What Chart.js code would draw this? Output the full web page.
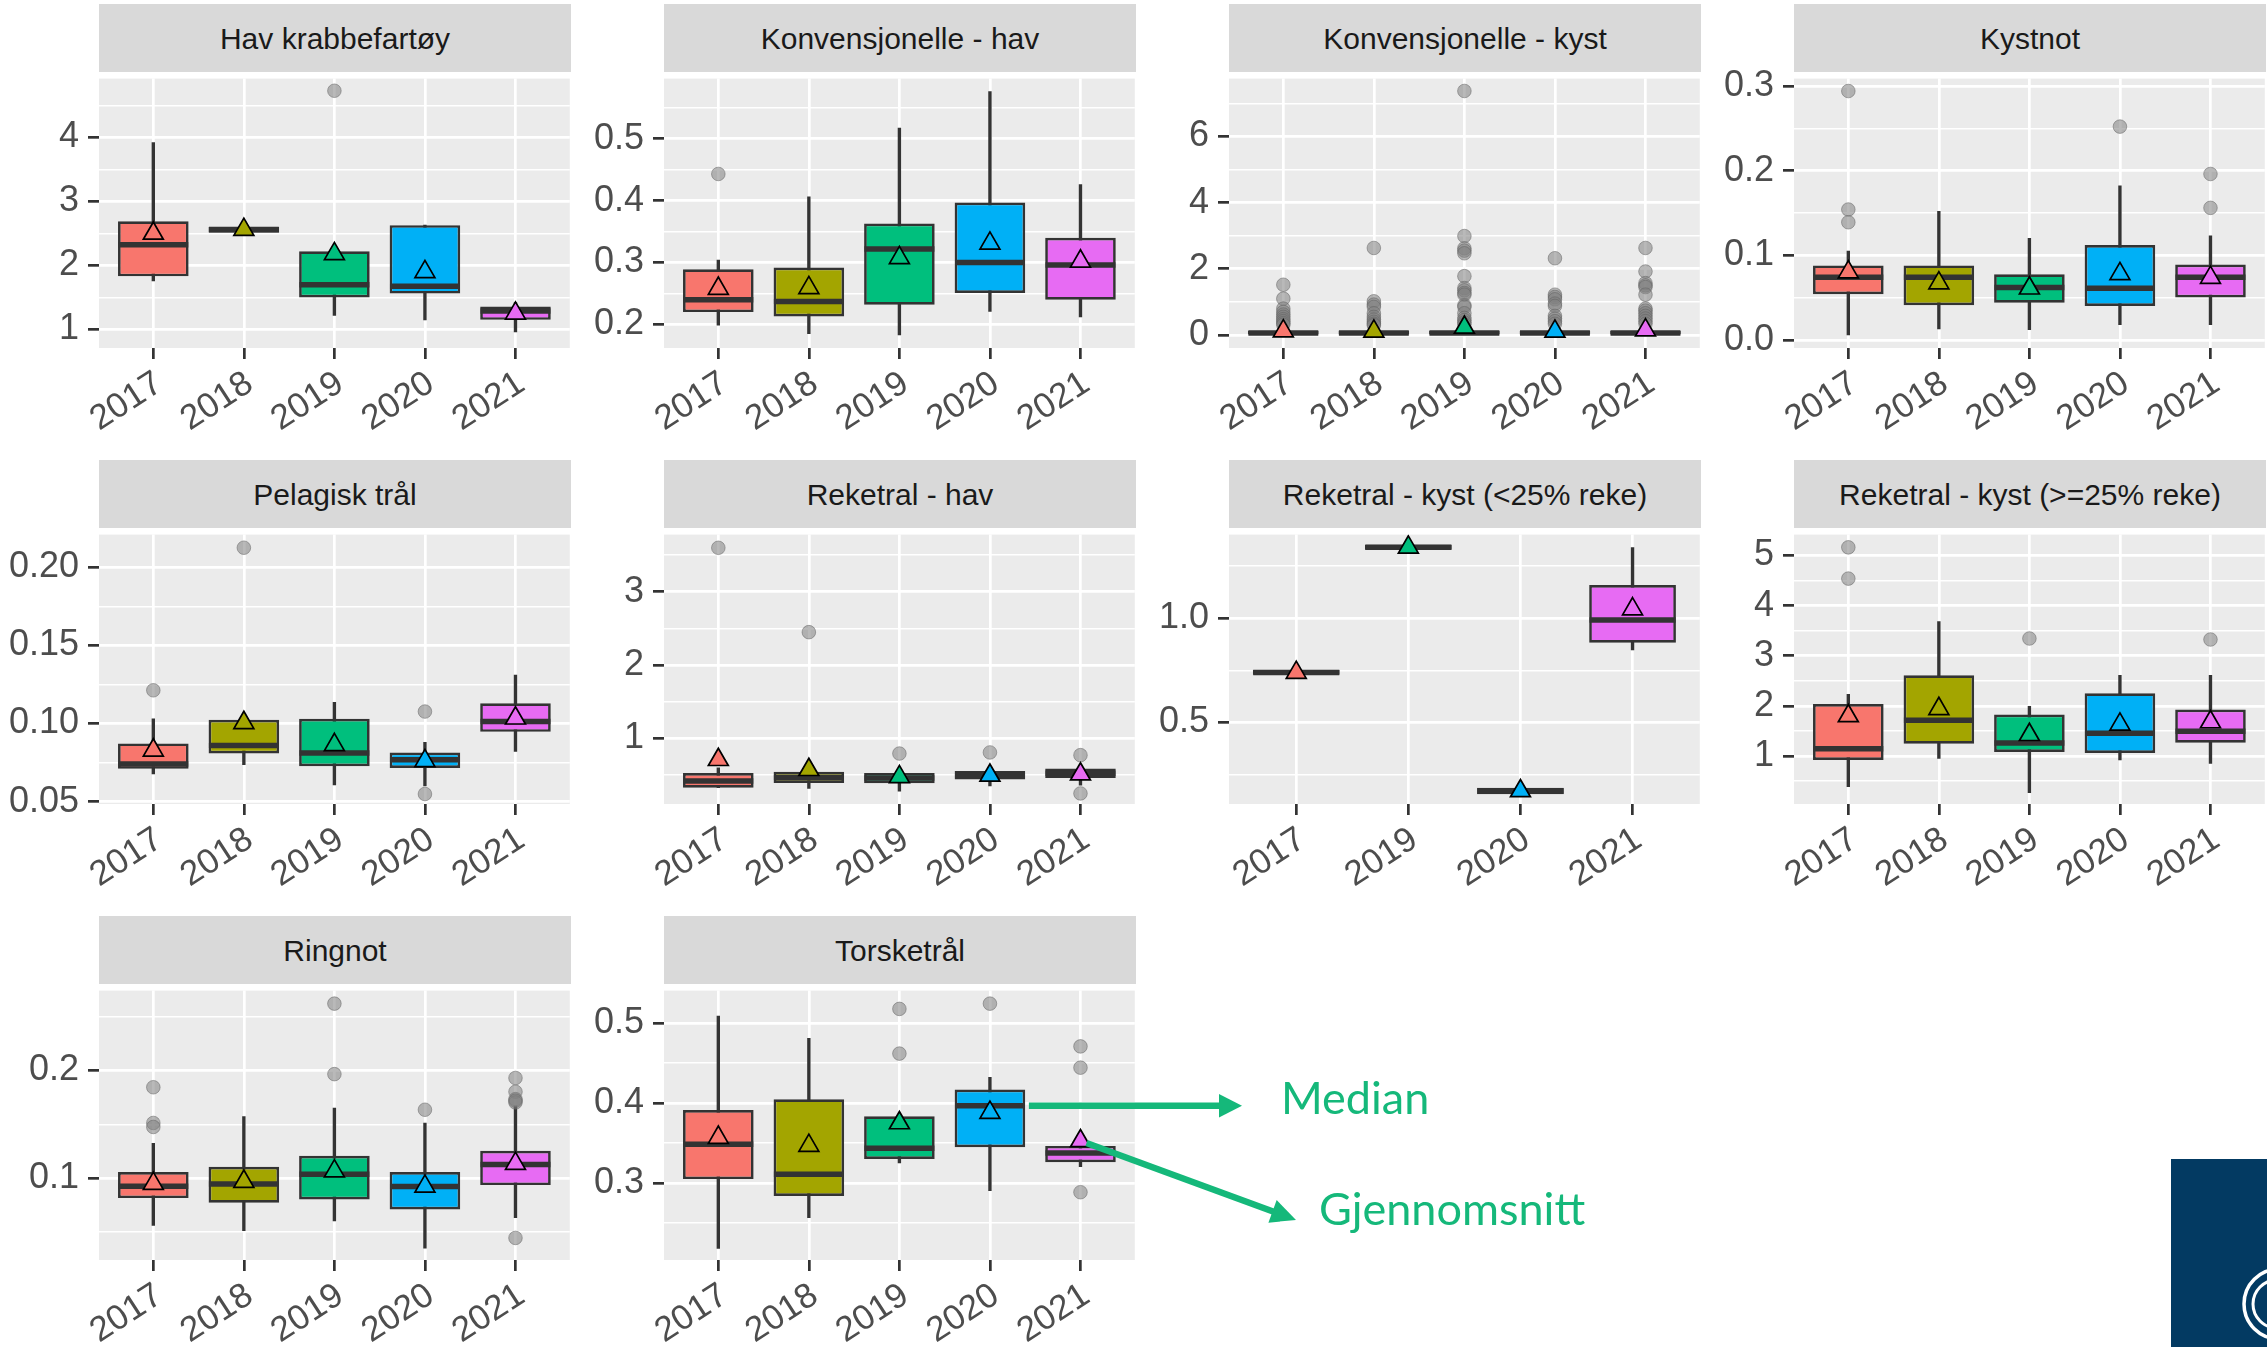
<!DOCTYPE html>
<html><head><meta charset="utf-8">
<script src="https://cdn.jsdelivr.net/npm/chart.js@4.4.1/dist/chart.umd.min.js"></script>
<style>
html,body{margin:0;padding:0;background:#fff;}
#root{position:relative;width:2267px;height:1347px;overflow:hidden;background:#fff;}
.strip{position:absolute;background:#D9D9D9;color:#1A1A1A;font-family:'Liberation Sans',Arial,sans-serif;font-size:30px;display:flex;align-items:center;justify-content:center;white-space:nowrap;overflow:hidden;padding-top:2px;box-sizing:border-box;}
canvas{position:absolute;}
</style></head><body><div id="root"></div>
<script>
// ---------------- DATA ----------------
const panelNames = ['Hav krabbefartøy','Konvensjonelle - hav','Konvensjonelle - kyst','Kystnot','Pelagisk trål','Reketral - hav','Reketral - kyst (<25% reke)','Reketral - kyst (>=25% reke)','Ringnot','Torsketrål'];
const Y5 = ['2017','2018','2019','2020','2021'];
const panelYears = [Y5, Y5, Y5, Y5, Y5, Y5, ['2017','2019','2020','2021'], Y5, Y5, Y5];

const whiskerLow = [
  [1.76, 2.51, 1.22, 1.15, 0.96],
  [0.199, 0.185, 0.183, 0.221, 0.212],
  [0.0, 0.0, 0.0, 0.0, 0.0],
  [0.006, 0.013, 0.012, 0.018, 0.018],
  [0.0678, 0.0737, 0.0607, 0.060, 0.0821],
  [0.33, 0.32, 0.283, 0.354, 0.364],
  [0.729, 1.328, 0.156, 0.848],
  [0.388, 0.953, 0.271, 0.922, 0.856],
  [0.0561, 0.0513, 0.0603, 0.0349, 0.0634],
  [0.2184, 0.2569, 0.3253, 0.2906, 0.3204]
];
const boxLow = [
  [1.83, 2.51, 1.50, 1.56, 1.15],
  [0.220, 0.213, 0.232, 0.251, 0.240],
  [0.02, 0.02, 0.02, 0.02, 0.02],
  [0.054, 0.041, 0.044, 0.040, 0.050],
  [0.0710, 0.0809, 0.0727, 0.0716, 0.0947],
  [0.33, 0.395, 0.39, 0.44, 0.462],
  [0.729, 1.328, 0.156, 0.883],
  [0.922, 1.246, 1.084, 1.064, 1.265],
  [0.0815, 0.0773, 0.0803, 0.0709, 0.0936],
  [0.3050, 0.2839, 0.3302, 0.3449, 0.3261]
];
const median = [
  [2.325, 2.56, 1.70, 1.675, 1.29],
  [0.240, 0.237, 0.322, 0.300, 0.296],
  [0.06, 0.06, 0.06, 0.06, 0.06],
  [0.074, 0.074, 0.062, 0.061, 0.074],
  [0.0741, 0.0859, 0.0811, 0.0768, 0.1014],
  [0.42, 0.47, 0.46, 0.50, 0.525],
  [0.740, 1.340, 0.172, 0.992],
  [1.148, 1.713, 1.259, 1.454, 1.493],
  [0.0925, 0.0945, 0.1036, 0.0922, 0.1127],
  [0.3486, 0.3112, 0.3436, 0.3967, 0.3376]
];
const boxHigh = [
  [2.69, 2.60, 2.22, 2.63, 1.36],
  [0.289, 0.292, 0.363, 0.397, 0.340],
  [0.12, 0.12, 0.12, 0.12, 0.12],
  [0.088, 0.088, 0.0775, 0.112, 0.089],
  [0.0873, 0.1024, 0.1031, 0.0815, 0.1130],
  [0.53, 0.545, 0.531, 0.558, 0.59],
  [0.752, 1.352, 0.187, 1.159],
  [2.038, 2.609, 1.830, 2.253, 1.927],
  [0.1058, 0.1106, 0.1209, 0.1058, 0.1255],
  [0.3914, 0.4049, 0.3837, 0.4171, 0.3465]
];
const whiskerHigh = [
  [3.92, 2.60, 2.22, 2.63, 1.42],
  [0.304, 0.406, 0.517, 0.576, 0.426],
  [0.26, 0.26, 0.26, 0.26, 0.26],
  [0.105, 0.152, 0.120, 0.182, 0.123],
  [0.1031, 0.104, 0.1136, 0.0880, 0.1310],
  [0.60, 0.58, 0.56, 0.58, 0.62],
  [0.752, 1.352, 0.187, 1.339],
  [2.233, 3.681, 1.994, 2.609, 2.609],
  [0.1325, 0.1573, 0.1652, 0.1513, 0.1673],
  [0.509, 0.4812, 0.3837, 0.4322, 0.3465]
];
const meanValue = [
  [2.50, 2.56, 2.18, 1.90, 1.25],
  [0.258, 0.259, 0.3075, 0.331, 0.302],
  [0.12, 0.11, 0.23, 0.11, 0.15],
  [0.080, 0.067, 0.061, 0.078, 0.0735],
  [0.0829, 0.1005, 0.0864, 0.0761, 0.1034],
  [0.71, 0.574, 0.476, 0.496, 0.513],
  [0.739, 1.340, 0.172, 1.044],
  [1.80, 1.943, 1.425, 1.633, 1.68],
  [0.095, 0.0969, 0.1066, 0.0924, 0.1135],
  [0.357, 0.3468, 0.3752, 0.3881, 0.3527]
];
const outliers = [
  [[], [], [4.73], [], []],
  [[0.443], [], [], [], []],
  [[1.52, 1.10, 0.80, 0.70, 0.62, 0.55, 0.48, 0.42, 0.36, 0.31],
   [2.63, 1.02, 0.92, 0.85, 0.66, 0.55, 0.47, 0.40, 0.34, 0.30],
   [7.37, 2.99, 2.62, 2.55, 2.47, 1.78, 1.42, 1.35, 1.27, 1.22, 0.90, 0.85, 0.66, 0.52, 0.45, 0.38, 0.32],
   [2.32, 1.22, 1.15, 1.08, 0.95, 0.88, 0.58, 0.50, 0.42, 0.34],
   [2.63, 1.92, 1.57, 1.50, 1.45, 1.22, 0.80, 0.74, 0.66, 0.58, 0.50, 0.42, 0.34]],
  [[0.294, 0.154, 0.139], [], [], [0.252], [0.196, 0.156]],
  [[0.1213], [0.2126], [], [0.1077, 0.0549], []],
  [[3.60], [2.45], [0.795], [0.81], [0.773, 0.251]],
  [[], [], [], []],
  [[5.161, 4.538], [], [3.344], [], [3.324]],
  [[0.1845, 0.1513, 0.1476], [], [0.2622, 0.1967], [0.1636], [0.1931, 0.1803, 0.1734, 0.1704, 0.1720, 0.0445]],
  [[], [], [0.5179, 0.462], [0.5245], [0.471, 0.4444, 0.2886]]
];
const yMin = [0.71, 0.162, -0.39, -0.0096, 0.0485, 0.107, 0.1095, 0.045, 0.024, 0.2038];
const yMax = [4.92, 0.597, 7.744, 0.3087, 0.221, 3.78, 1.401, 5.415, 0.2743, 0.5408];
const yTickValues = [
  [1, 2, 3, 4], [0.2, 0.3, 0.4, 0.5], [0, 2, 4, 6], [0, 0.1, 0.2, 0.3], [0.05, 0.10, 0.15, 0.20],
  [1, 2, 3], [0.5, 1.0], [1, 2, 3, 4, 5], [0.1, 0.2], [0.3, 0.4, 0.5]
];
const yTickLabels = [
  ['1','2','3','4'], ['0.2','0.3','0.4','0.5'], ['0','2','4','6'], ['0.0','0.1','0.2','0.3'], ['0.05','0.10','0.15','0.20'],
  ['1','2','3'], ['0.5','1.0'], ['1','2','3','4','5'], ['0.1','0.2'], ['0.3','0.4','0.5']
];

// ---------------- STYLE / LAYOUT ----------------
const yearColors = {'2017':'#F8766D','2018':'#A3A500','2019':'#00BF7D','2020':'#00B0F6','2021':'#E76BF3'};
const COL_L = [99, 664, 1229, 1794];
const COL_R = [571, 1136, 1701, 2266];
const ROW_T = [72, 528, 984];
const PLOT_H = 276, STRIP_H = 68;
const YW = 97, XH = 100, PAD_T = 24, PAD_R = 12;
const LW = 2.7;
const GREEN = '#15B87A';

Chart.defaults.font.family = "'Liberation Sans', Arial, sans-serif";
Chart.defaults.animation = false;

const panelBg = {
  id: 'panelBg',
  beforeDraw(chart) {
    const {ctx, chartArea: a} = chart;
    ctx.save();
    ctx.fillStyle = '#EBEBEB';
    ctx.fillRect(a.left, a.top, a.right - a.left, a.bottom - a.top);
    ctx.restore();
  }
};

const root = document.getElementById('root');
const charts = [], canvasPos = [];

function near(a, b) { return Math.abs(a - b) < 1e-9; }

function buildPanel(p) {
  const col = p % 4, row = Math.floor(p / 4);
  const L = COL_L[col], R = COL_R[col], T = ROW_T[row];
  const W = R - L;
  const cw = YW + W + PAD_R, ch = PAD_T + PLOT_H + XH;
  const canvas = document.createElement('canvas');
  canvas.width = cw; canvas.height = ch;
  canvas.style.left = (L - YW) + 'px'; canvas.style.top = (T - PAD_T) + 'px';
  canvas.style.width = cw + 'px'; canvas.style.height = ch + 'px';
  root.appendChild(canvas);
  canvasPos[p] = {left: L - YW, top: T - PAD_T};

  const strip = document.createElement('div');
  strip.className = 'strip';
  strip.style.left = L + 'px'; strip.style.top = (T - STRIP_H) + 'px';
  strip.style.width = W + 'px'; strip.style.height = STRIP_H + 'px';
  strip.textContent = panelNames[p];
  root.appendChild(strip);

  const cats = panelYears[p];
  const n = cats.length;
  const idx = cats.map((_, i) => i);
  const colors = cats.map(y => yearColors[y]);
  const spacing = W / (n - 1 + 1.2);
  const barPct = 0.75 + LW / spacing;

  // y ticks: majors + minor midpoints
  const majors = yTickValues[p];
  const step = majors[1] - majors[0];
  let all = majors.slice();
  all.push(majors[0] - step / 2);
  for (let i = 0; i < majors.length; i++) all.push(majors[i] + step / 2);
  all = all.filter(v => v >= yMin[p] && v <= yMax[p]).sort((a, b) => a - b);
  const isMajor = v => majors.some(m => near(m, v));

  const outlierPts = [];
  outliers[p].forEach((arr, i) => arr.forEach(v => outlierPts.push({x: i, y: v})));

  const halfBox = (chart) => {
    const xs = chart.scales.x;
    return (xs.getPixelForValue(1) - xs.getPixelForValue(0)) * 0.375 + 1;
  };

  const datasets = [
    {type: 'bar', data: idx.map(i => ({x: i, y: [whiskerLow[p][i], whiskerHigh[p][i]]})),
     backgroundColor: '#333333', borderWidth: 0, barThickness: LW, grouped: false, order: 5},
    {type: 'bar', data: idx.map(i => ({x: i, y: [boxLow[p][i], boxHigh[p][i]]})),
     backgroundColor: colors, borderColor: '#333333', borderWidth: LW, borderSkipped: false,
     grouped: false, categoryPercentage: 1, barPercentage: barPct, order: 4},
    {type: 'line', data: idx.map(i => ({x: i, y: median[p][i]})), showLine: false,
     pointStyle: 'line', pointRadius: ctx => halfBox(ctx.chart), pointBorderColor: '#333333',
     pointBorderWidth: 5.5, order: 3},
    {type: 'line', data: outlierPts, showLine: false, pointStyle: 'circle', pointRadius: 6.8,
     pointBackgroundColor: 'rgba(128,128,128,0.55)', pointBorderColor: 'rgba(95,95,95,0.5)',
     pointBorderWidth: 1, order: 2},
    {type: 'line', data: idx.map(i => ({x: i, y: meanValue[p][i]})), showLine: false,
     pointStyle: 'triangle', pointRadius: 11.5, pointBackgroundColor: colors,
     pointBorderColor: '#000000', pointBorderWidth: 1.7, order: 1}
  ];

  const chart = new Chart(canvas, {
    type: 'bar',
    data: {datasets},
    plugins: [panelBg],
    options: {
      responsive: false, devicePixelRatio: 1, animation: false, events: [],
      layout: {padding: {top: PAD_T, right: PAD_R, left: 0, bottom: 0}},
      plugins: {legend: {display: false}, tooltip: {enabled: false}, title: {display: false}},
      scales: {
        x: {
          type: 'linear', min: -0.6, max: n - 0.4, offset: false,
          afterBuildTicks: s => { s.ticks = idx.map(i => ({value: i})); },
          afterFit: s => { s.height = XH; },
          grid: {offset: false, color: '#FFFFFF', lineWidth: LW, tickLength: 11, tickColor: '#333333', tickWidth: LW, drawTicks: true},
          border: {display: false},
          ticks: {autoSkip: false, minRotation: 33, maxRotation: 33, padding: 4, labelOffset: 6, color: '#4D4D4D',
                  font: {size: 35}, callback: v => cats[Math.round(v)]}
        },
        y: {
          type: 'linear', min: yMin[p], max: yMax[p], beginAtZero: false,
          afterBuildTicks: s => { s.ticks = all.map(v => ({value: v})); },
          afterFit: s => { s.width = YW; },
          grid: {color: '#FFFFFF', lineWidth: c => isMajor(c.tick.value) ? LW : 1.4,
                 tickLength: 11, tickWidth: LW,
                 tickColor: c => isMajor(c.tick.value) ? '#333333' : 'rgba(0,0,0,0)'},
          border: {display: false},
          ticks: {autoSkip: false, padding: 9, color: '#4D4D4D', font: {size: 36},
                  callback: v => { const k = majors.findIndex(m => near(m, v)); return k >= 0 ? yTickLabels[p][k] : ''; }}
        }
      }
    }
  });
  charts[p] = chart;
}

for (let p = 0; p < panelNames.length; p++) buildPanel(p);

// ---------------- ANNOTATIONS ----------------
const NS = 'http://www.w3.org/2000/svg';
const svg = document.createElementNS(NS, 'svg');
svg.setAttribute('width', '2267'); svg.setAttribute('height', '1347');
svg.style.position = 'absolute'; svg.style.left = '0'; svg.style.top = '0'; svg.style.pointerEvents = 'none';
root.appendChild(svg);
function el(tag, attrs, text) {
  const e = document.createElementNS(NS, tag);
  for (const k in attrs) e.setAttribute(k, attrs[k]);
  if (text) e.textContent = text;
  svg.appendChild(e);
  return e;
}
function arrow(x0, y0, x1, y1, headLen, headHalf, width) {
  const dx = x1 - x0, dy = y1 - y0, len = Math.hypot(dx, dy);
  const ux = dx / len, uy = dy / len;
  const bx = x1 - ux * headLen, by = y1 - uy * headLen;
  el('line', {x1: x0, y1: y0, x2: bx + ux * 2, y2: by + uy * 2, stroke: GREEN, 'stroke-width': width});
  el('polygon', {points: `${x1},${y1} ${bx - uy * headHalf},${by + ux * headHalf} ${bx + uy * headHalf},${by - ux * headHalf}`, fill: GREEN});
}
(function () {
  const p = 9, c = charts[p], pos = canvasPos[p];
  const xs = c.scales.x, ys = c.scales.y;
  const half = (xs.getPixelForValue(1) - xs.getPixelForValue(0)) * 0.375;
  const mx0 = pos.left + xs.getPixelForValue(3) + half + 5;
  const my = pos.top + ys.getPixelForValue(median[p][3]);
  arrow(mx0, my, 1242, my, 23, 11.7, 6.5);
  const sx = pos.left + xs.getPixelForValue(4), sy = pos.top + ys.getPixelForValue(meanValue[p][4]);
  arrow(sx + 6, sy + 2, 1296, 1220, 25, 12, 6.5);
  el('text', {x: 1281, y: 1114, fill: GREEN, 'font-family': 'Lato, sans-serif', 'font-size': 45}, 'Median');
  el('text', {x: 1319, y: 1225, fill: GREEN, 'font-family': 'Lato, sans-serif', 'font-size': 45}, 'Gjennomsnitt');
  // logo corner
  el('rect', {x: 2171, y: 1159, width: 96, height: 188, fill: '#033A62'});
  el('circle', {cx: 2279, cy: 1304, r: 35, fill: 'none', stroke: '#FFFFFF', 'stroke-width': 3.5});
  el('circle', {cx: 2277, cy: 1304, r: 24, fill: 'none', stroke: '#FFFFFF', 'stroke-width': 3});
})();
</script>
</body></html>
